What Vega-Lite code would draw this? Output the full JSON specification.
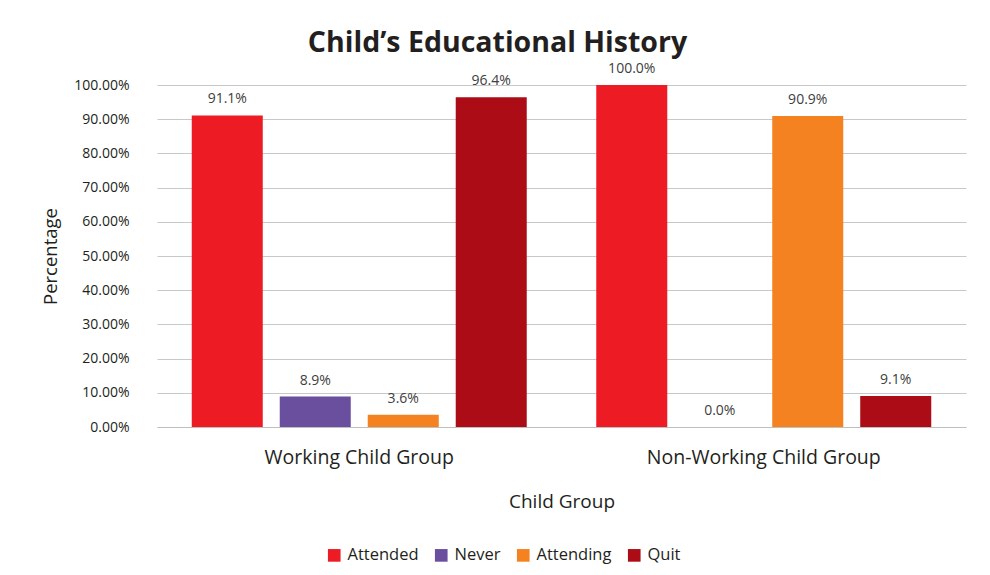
{
  "$schema": "https://vega.github.io/schema/vega-lite/v6.json",
  "width": 809,
  "height": 342,
  "autosize": "none",
  "padding": {"left": 157, "top": 85, "right": 24, "bottom": 148},
  "background": "white",
  "title": {
    "text": "Child’s Educational History",
    "fontSize": 28.5,
    "font": "Open Sans",
    "fontWeight": "bold",
    "color": "#231f20",
    "anchor": "middle",
    "dx": -64,
    "offset": 5
  },
  "data": {
    "values": [
      {"group": "Working Child Group", "status": "Attended", "pct": 91.1},
      {"group": "Working Child Group", "status": "Never", "pct": 8.9},
      {"group": "Working Child Group", "status": "Attending", "pct": 3.6},
      {"group": "Working Child Group", "status": "Quit", "pct": 96.4},
      {"group": "Non-Working Child Group", "status": "Attended", "pct": 100.0},
      {"group": "Non-Working Child Group", "status": "Never", "pct": 0.0},
      {"group": "Non-Working Child Group", "status": "Attending", "pct": 90.9},
      {"group": "Non-Working Child Group", "status": "Quit", "pct": 9.1}
    ]
  },
  "transform": [
    {"calculate": "format(datum.pct, '.1f') + '%'", "as": "label"}
  ],
  "encoding": {
    "x": {
      "field": "group",
      "type": "nominal",
      "sort": ["Working Child Group", "Non-Working Child Group"],
      "scale": {"paddingInner": 0, "paddingOuter": 0},
      "axis": {
        "title": "Child Group",
        "labelAngle": 0,
        "labelLimit": 0,
        "labelFontSize": 19.5,
        "labelFont": "Open Sans",
        "labelColor": "#231f20",
        "labelPadding": 21,
        "ticks": false,
        "domain": true,
        "domainColor": "#bfbfbf",
        "titleFontSize": 19,
        "titleFont": "Open Sans",
        "titleFontWeight": "normal",
        "titleColor": "#231f20",
        "titlePadding": 26
      }
    },
    "xOffset": {
      "field": "status",
      "type": "nominal",
      "sort": ["Attended", "Never", "Attending", "Quit"],
      "scale": {"paddingInner": 0.193, "paddingOuter": 0.395}
    },
    "y": {
      "field": "pct",
      "type": "quantitative",
      "scale": {"domain": [0, 100]},
      "axis": {
        "title": "Percentage",
        "values": [0, 10, 20, 30, 40, 50, 60, 70, 80, 90, 100],
        "labelExpr": "format(datum.value, '.2f') + '%'",
        "labelFontSize": 14,
        "labelFont": "Open Sans",
        "labelColor": "#231f20",
        "labelPadding": 28,
        "ticks": false,
        "domain": false,
        "gridColor": "#c8c8c8",
        "gridWidth": 1,
        "titleFontSize": 18.5,
        "titleFont": "Open Sans",
        "titleFontWeight": "normal",
        "titleColor": "#231f20",
        "titlePadding": 13
      }
    }
  },
  "layer": [
    {
      "mark": {"type": "bar"},
      "encoding": {
        "color": {
          "field": "status",
          "type": "nominal",
          "sort": ["Attended", "Never", "Attending", "Quit"],
          "scale": {
            "domain": ["Attended", "Never", "Attending", "Quit"],
            "range": ["#ed1c24", "#6b4f9f", "#f58220", "#ab0c15"]
          },
          "legend": {
            "title": null,
            "orient": "none",
            "direction": "horizontal",
            "legendX": 169,
            "legendY": 462,
            "symbolType": "square",
            "symbolSize": 160,
            "symbolStrokeWidth": 0,
            "labelFontSize": 16.5,
            "labelFont": "Open Sans",
            "labelColor": "#231f20",
            "columnPadding": 14,
            "labelOffset": 5
          }
        }
      }
    },
    {
      "mark": {
        "type": "text",
        "baseline": "bottom",
        "dy": -9,
        "fontSize": 14,
        "font": "Open Sans",
        "color": "#404040"
      },
      "encoding": {
        "text": {"field": "label", "type": "nominal"},
        "detail": {"field": "status"}
      }
    }
  ],
  "config": {
    "view": {"stroke": null}
  }
}
